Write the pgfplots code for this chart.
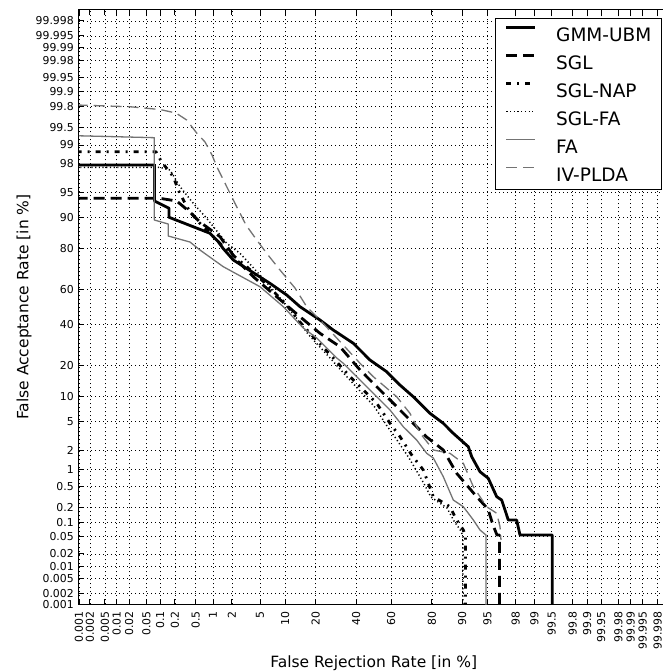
\documentclass[border=0pt]{standalone}
\usepackage{fontspec}
\setmainfont{DejaVu Sans}
\usepackage{pgfplots}
\pgfplotsset{compat=1.18}
\begin{document}
\begin{tikzpicture}
\begin{axis}[
  at={(0pt,0pt)}, anchor=south west,
  scale only axis, width=589.4pt, height=594.5pt,
  xmin=-4.2649, xmax=4.2649, ymin=-4.2649, ymax=4.2649,
  xtick={-4.2649,-4.1075,-3.8906,-3.7190,-3.5401,-3.2905,-3.0902,-2.8782,-2.5758,-2.3263,-2.0537,-1.6449,-1.2816,-0.8416,-0.2533,0.2533,0.8416,1.2816,1.6449,2.0537,2.3263,2.5758,2.8782,3.0902,3.2905,3.5401,3.7190,3.8906,4.1075},
  xticklabels={0.001,0.002,0.005,0.01,0.02,0.05,0.1,0.2,0.5,1,2,5,10,20,40,60,80,90,95,98,99,99.5,99.8,99.9,99.95,99.98,99.99,99.995,99.998},
  ytick={-4.2649,-4.1075,-3.8906,-3.7190,-3.5401,-3.2905,-3.0902,-2.8782,-2.5758,-2.3263,-2.0537,-1.6449,-1.2816,-0.8416,-0.2533,0.2533,0.8416,1.2816,1.6449,2.0537,2.3263,2.5758,2.8782,3.0902,3.2905,3.5401,3.7190,3.8906,4.1075},
  yticklabels={0.001,0.002,0.005,0.01,0.02,0.05,0.1,0.2,0.5,1,2,5,10,20,40,60,80,90,95,98,99,99.5,99.8,99.9,99.95,99.98,99.99,99.995,99.998},
  tick align=inside, major tick length=5pt,
  tick style={black, line width=0.8pt},
  axis line style={line width=1pt},
  tick label style={font=\fontsize{10.9}{12}\selectfont},
  xticklabel style={rotate=90, anchor=east, inner sep=0pt},
  xticklabel shift=6.7pt,
  yticklabel style={anchor=east, inner sep=0pt},
  yticklabel shift=5pt,
  grid=major,
  major grid style={black, line width=0.5pt, dash pattern=on 1pt off 3pt},
  every axis x label/.style={at={(axis description cs:0.5,-0.1055)}, anchor=base, font=\fontsize{15.5}{18}\selectfont},
  every axis y label/.style={at={(axis description cs:-0.086,0.5)}, rotate=90, anchor=base, font=\fontsize{15.5}{18}\selectfont},
  xlabel={False Rejection Rate [in \%]},
  ylabel={False Acceptance Rate [in \%]},
  legend cell align=left,
  legend image code/.code={\draw[#1] (0pt,6.5pt) -- (29pt,6.5pt);},
  legend style={at={(axis description cs:1,1)}, anchor=north east, xshift=-6.7pt, yshift=-8.2pt,
    draw=black, line width=0.8pt, fill=white, inner xsep=10pt, inner ysep=7pt,
    row sep=10.6pt, column sep=19.4pt, font=\fontsize{18.5}{21}\selectfont,
    nodes={inner sep=0pt, text height=16.4pt, text depth=1pt}},
  every axis plot/.append style={line join=round},
]
\addplot[black, line width=2.8pt] coordinates {
(-4.3,2.038) (-3.172,2.038) (-3.172,1.521) (-2.962,1.417) (-2.962,1.288) (-2.369,1.058) (-2.249,0.937) (-2.181,0.843) (-2.032,0.675) (-1.743,0.493) (-1.501,0.340) (-1.259,0.173) (-1.067,0.005) (-0.777,-0.186) (-0.585,-0.330) (-0.295,-0.520) (-0.054,-0.760) (0.188,-0.928) (0.380,-1.119) (0.573,-1.287) (0.815,-1.525) (1.007,-1.668) (1.152,-1.812) (1.369,-2.004) (1.418,-2.147) (1.538,-2.363) (1.658,-2.457) (1.780,-2.721) (1.852,-2.769) (1.948,-3.056) (2.069,-3.056) (2.117,-3.271) (2.584,-3.271) (2.584,-4.6)
};
\addlegendentry{GMM-UBM}
\addplot[black, line width=2.8pt, dash pattern=on 11pt off 6pt] coordinates {
(-4.3,1.560) (-3.093,1.560) (-2.851,1.521) (-2.659,1.363) (-2.514,1.220) (-2.224,1.009) (-1.983,0.675) (-1.743,0.435) (-1.404,0.148) (-1.067,-0.139) (-0.777,-0.377) (-0.488,-0.569) (-0.198,-0.903) (-0.006,-1.094) (0.284,-1.381) (0.477,-1.573) (0.622,-1.717) (0.767,-1.865) (1.007,-2.051) (1.201,-2.386) (1.490,-2.721) (1.654,-2.898) (1.726,-3.127) (1.784,-3.271) (1.820,-3.271) (1.820,-4.6)
};
\addlegendentry{SGL}
\addplot[black, line width=2.8pt, dash pattern=on 5pt off 6pt on 2pt off 6pt] coordinates {
(-4.3,2.229) (-3.151,2.229) (-3.068,2.081) (-2.900,1.870) (-2.828,1.679) (-2.706,1.440) (-2.562,1.249) (-2.369,1.058) (-2.127,0.818) (-1.838,0.579) (-1.573,0.345) (-1.284,0.058) (-1.067,-0.215) (-0.922,-0.377) (-0.585,-0.731) (-0.343,-0.999) (-0.150,-1.190) (0.044,-1.381) (0.236,-1.668) (0.381,-1.860) (0.550,-2.123) (0.718,-2.338) (0.863,-2.721) (1.104,-2.865) (1.201,-3.055) (1.297,-3.199) (1.329,-3.285) (1.329,-4.6)
};
\addlegendentry{SGL-NAP}
\addplot[black, line width=1.5pt, dash pattern=on 1.2pt off 2.5pt] coordinates {
(-4.3,2.005) (-3.093,2.005) (-2.948,1.966) (-2.803,1.727) (-2.611,1.488) (-2.417,1.273) (-2.127,0.914) (-1.935,0.771) (-1.646,0.460) (-1.356,0.130) (-1.096,-0.186) (-0.951,-0.387) (-0.618,-0.746) (-0.372,-1.018) (-0.184,-1.219) (0.004,-1.420) (0.193,-1.707) (0.337,-1.908) (0.511,-2.166) (0.714,-2.510) (0.829,-2.726) (1.061,-2.883) (1.162,-3.070) (1.263,-3.213) (1.292,-3.299) (1.292,-4.6)
};
\addlegendentry{SGL-FA}
\addplot[black!55, line width=1.3pt] coordinates {
(-4.3,2.458) (-3.175,2.430) (-3.175,1.249) (-2.973,1.191) (-2.973,1.019) (-2.659,0.933) (-2.514,0.818) (-2.177,0.579) (-1.646,0.292) (-1.308,0.005) (-1.019,-0.301) (-0.825,-0.444) (-0.535,-0.731) (-0.440,-0.807) (-0.150,-1.094) (0.044,-1.287) (0.236,-1.477) (0.428,-1.717) (0.622,-1.908) (0.767,-2.099) (0.863,-2.166) (1.007,-2.434) (1.152,-2.769) (1.297,-2.865) (1.442,-3.055) (1.538,-3.199) (1.625,-3.271) (1.625,-4.6)
};
\addlegendentry{FA}
\addplot[black!55, line width=1.3pt, dash pattern=on 11pt off 6pt] coordinates {
(-4.3,2.899) (-3.527,2.874) (-3.093,2.834) (-2.861,2.784) (-2.706,2.683) (-2.562,2.497) (-2.441,2.368) (-2.340,2.181) (-2.268,2.009) (-2.127,1.727) (-1.983,1.440) (-1.848,1.177) (-1.693,0.962) (-1.530,0.747) (-1.356,0.531) (-1.139,0.273) (-0.970,0.005) (-0.777,-0.186) (-0.535,-0.444) (-0.198,-0.807) (-0.006,-0.999) (0.333,-1.287) (0.525,-1.525) (0.670,-1.807) (0.863,-2.051) (1.104,-2.099) (1.297,-2.242) (1.442,-2.578) (1.635,-2.865) (1.780,-2.959) (1.828,-3.152) (1.842,-3.342)
};
\addlegendentry{IV-PLDA}
\end{axis}
\pgfresetboundingbox
\path[use as bounding box] (-79pt,-66.7pt) rectangle (583pt,604.3pt);
\end{tikzpicture}
\end{document}
